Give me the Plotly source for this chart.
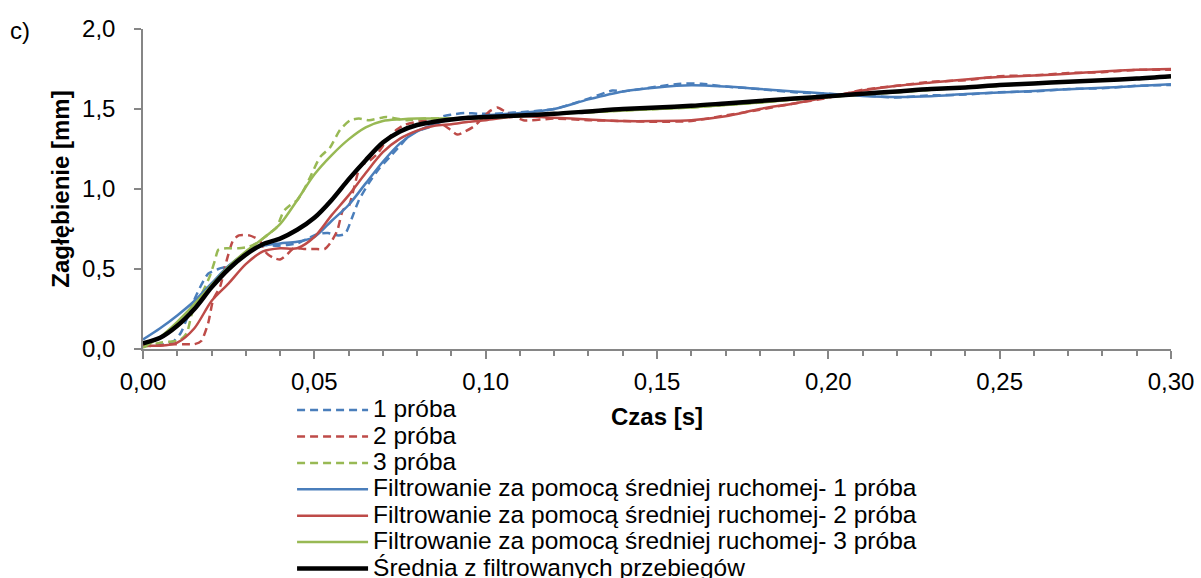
import plotly.graph_objects as go

# ---------------- data ----------------
# filtered (moving average) series and mean, common time grid [s]
t_f = [0.000, 0.005, 0.010, 0.015, 0.020, 0.025, 0.030, 0.035, 0.040, 0.045,
       0.050, 0.055, 0.060, 0.065, 0.070, 0.075, 0.080, 0.085, 0.090, 0.095,
       0.100, 0.110, 0.120, 0.130, 0.140, 0.150, 0.160, 0.170, 0.180, 0.190,
       0.200, 0.210, 0.220, 0.230, 0.240, 0.250, 0.260, 0.270, 0.280, 0.290, 0.300]

filt_1 = [0.06, 0.13, 0.21, 0.30, 0.41, 0.52, 0.60, 0.645, 0.66, 0.67,
          0.70, 0.80, 0.90, 1.035, 1.17, 1.285, 1.36, 1.405, 1.435, 1.45,
          1.46, 1.475, 1.50, 1.56, 1.61, 1.635, 1.648, 1.64, 1.625, 1.61,
          1.595, 1.582, 1.575, 1.58, 1.593, 1.603, 1.613, 1.623, 1.633, 1.643, 1.655]

filt_2 = [0.025, 0.02, 0.04, 0.13, 0.30, 0.41, 0.53, 0.61, 0.63, 0.63,
          0.70, 0.835, 0.96, 1.10, 1.23, 1.315, 1.365, 1.395, 1.405, 1.42,
          1.43, 1.455, 1.445, 1.435, 1.425, 1.425, 1.43, 1.455, 1.50, 1.535,
          1.575, 1.615, 1.645, 1.665, 1.685, 1.70, 1.71, 1.72, 1.735, 1.745, 1.75]

filt_3 = [0.01, 0.075, 0.17, 0.28, 0.40, 0.515, 0.61, 0.69, 0.78, 0.93,
          1.09, 1.21, 1.31, 1.385, 1.425, 1.435, 1.44, 1.44, 1.44, 1.443,
          1.445, 1.455, 1.47, 1.48, 1.49, 1.50, 1.51, 1.525, 1.54, 1.56,
          1.575, 1.59, 1.605, 1.62, 1.635, 1.645, 1.66, 1.67, 1.68, 1.69, 1.70]

mean_f = [0.035, 0.07, 0.145, 0.25, 0.385, 0.50, 0.59, 0.655, 0.69, 0.745,
          0.82, 0.93, 1.06, 1.18, 1.29, 1.36, 1.40, 1.42, 1.435, 1.445,
          1.45, 1.46, 1.47, 1.485, 1.50, 1.51, 1.52, 1.535, 1.55, 1.565,
          1.58, 1.595, 1.61, 1.625, 1.635, 1.65, 1.66, 1.67, 1.68, 1.69, 1.705]

# raw measurements
t_r1 = [0.000, 0.003, 0.006, 0.009, 0.011, 0.013, 0.015, 0.017, 0.019, 0.022,
        0.025, 0.028, 0.031, 0.033, 0.036, 0.039, 0.042, 0.045, 0.048, 0.051,
        0.054, 0.057, 0.059, 0.061, 0.063, 0.066, 0.069, 0.072, 0.075, 0.078,
        0.081, 0.084, 0.087, 0.090, 0.094, 0.098, 0.102, 0.106, 0.110, 0.120,
        0.130, 0.137, 0.140, 0.150, 0.157, 0.163, 0.170, 0.180, 0.190, 0.200,
        0.210, 0.220, 0.230, 0.240, 0.250, 0.260, 0.270, 0.280, 0.290, 0.300]
raw_1 = [0.04, 0.03, 0.03, 0.05, 0.10, 0.20, 0.31, 0.40, 0.47, 0.50,
         0.52, 0.56, 0.62, 0.66, 0.65, 0.645, 0.65, 0.66, 0.69, 0.72,
         0.725, 0.71, 0.72, 0.82, 0.93, 1.04, 1.13, 1.20, 1.27, 1.34,
         1.37, 1.39, 1.45, 1.465, 1.475, 1.47, 1.47, 1.475, 1.48, 1.50,
         1.565, 1.615, 1.61, 1.64, 1.658, 1.658, 1.64, 1.625, 1.605, 1.595,
         1.585, 1.572, 1.585, 1.59, 1.605, 1.61, 1.625, 1.63, 1.645, 1.65]

t_r2 = [0.000, 0.004, 0.008, 0.012, 0.015, 0.017, 0.019, 0.0205, 0.0225, 0.0245,
        0.0263, 0.028, 0.031, 0.034, 0.036, 0.038, 0.040, 0.042, 0.044, 0.047,
        0.050, 0.053, 0.0546, 0.0567, 0.0584, 0.060, 0.0615, 0.0634, 0.0663, 0.0684,
        0.0713, 0.074, 0.0762, 0.080, 0.0838, 0.087, 0.0897, 0.0917, 0.094, 0.0965,
        0.099, 0.1014, 0.1034, 0.106, 0.111, 0.120, 0.130, 0.140, 0.150, 0.160,
        0.170, 0.180, 0.190, 0.200, 0.210, 0.220, 0.230, 0.240, 0.250, 0.260,
        0.270, 0.280, 0.290, 0.300]
raw_2 = [0.02, 0.02, 0.03, 0.03, 0.03, 0.05, 0.16, 0.31, 0.39, 0.56,
         0.68, 0.71, 0.71, 0.68, 0.60, 0.57, 0.56, 0.59, 0.63, 0.625,
         0.625, 0.625, 0.66, 0.74, 0.87, 0.89, 1.00, 1.14, 1.18, 1.22,
         1.31, 1.37, 1.40, 1.42, 1.43, 1.41, 1.37, 1.34, 1.36, 1.39,
         1.44, 1.49, 1.51, 1.48, 1.43, 1.44, 1.43, 1.425, 1.42, 1.425,
         1.46, 1.495, 1.535, 1.57, 1.62, 1.645, 1.67, 1.68, 1.705, 1.71,
         1.725, 1.73, 1.745, 1.745]

t_r3 = [0.000, 0.005, 0.0108, 0.0128, 0.0143, 0.0158, 0.0175, 0.0196, 0.021, 0.022,
        0.0245, 0.028, 0.031, 0.033, 0.035, 0.037, 0.039, 0.041, 0.043, 0.045,
        0.0468, 0.0488, 0.0517, 0.0546, 0.0575, 0.0605, 0.063, 0.066, 0.071, 0.077,
        0.082, 0.090, 0.100, 0.110, 0.120, 0.130, 0.140, 0.150, 0.160, 0.170,
        0.180, 0.190, 0.200, 0.210, 0.220, 0.230, 0.240, 0.250, 0.260, 0.270,
        0.280, 0.290, 0.300]
raw_3 = [0.01, 0.04, 0.056, 0.10, 0.225, 0.29, 0.36, 0.46, 0.555, 0.62,
         0.63, 0.63, 0.64, 0.66, 0.69, 0.725, 0.76, 0.86, 0.90, 0.93,
         0.99, 1.075, 1.20, 1.26, 1.37, 1.43, 1.44, 1.43, 1.45, 1.43,
         1.44, 1.44, 1.445, 1.455, 1.47, 1.48, 1.49, 1.50, 1.51, 1.525,
         1.54, 1.56, 1.575, 1.59, 1.605, 1.62, 1.635, 1.645, 1.66, 1.67,
         1.68, 1.69, 1.70]

names = ["1 próba", "2 próba", "3 próba",
         "Filtrowanie za pomocą średniej ruchomej- 1 próba",
         "Filtrowanie za pomocą średniej ruchomej- 2 próba",
         "Filtrowanie za pomocą średniej ruchomej- 3 próba",
         "Średnia z filtrowanych przebiegów"]

x_ticks = [0.00, 0.05, 0.10, 0.15, 0.20, 0.25, 0.30]
y_ticks = [0.0, 0.5, 1.0, 1.5, 2.0]

# ---------------- style ----------------
BLUE, RED, GREEN = "#4A7EBB", "#BE4B48", "#98B954"
AXIS = "#868686"
FONT = "Liberation Sans, Arial, sans-serif"
FS = 24


def lname(s):
    return '<span style="font-size:24.5px">' + s + '</span>'


fig = go.Figure()
raw = [(t_r1, raw_1, BLUE), (t_r2, raw_2, RED), (t_r3, raw_3, GREEN)]
for i, (tt, vv, c) in enumerate(raw):
    fig.add_trace(go.Scatter(x=tt, y=vv, mode="lines", name=lname(names[i]),
                             line=dict(color=c, width=2.5, dash="8px,5px",
                                       shape="spline", smoothing=0.6)))
for i, (vv, c) in enumerate([(filt_1, BLUE), (filt_2, RED), (filt_3, GREEN)]):
    fig.add_trace(go.Scatter(x=t_f, y=vv, mode="lines", name=lname(names[3 + i]),
                             line=dict(color=c, width=2.5, shape="spline", smoothing=0.8)))
fig.add_trace(go.Scatter(x=t_f, y=mean_f, mode="lines", name=lname(names[6]),
                         line=dict(color="black", width=4.5, shape="spline", smoothing=0.8)))

fig.update_layout(
    width=1201, height=578,
    margin=dict(l=143, r=30, t=29, b=229, autoexpand=False),
    paper_bgcolor="white", plot_bgcolor="white",
    separators=", ",
    font=dict(family=FONT, size=FS, color="black"),
    showlegend=True,
    legend=dict(x=0.145, xanchor="left", y=-0.134, yanchor="top",
                font=dict(family=FONT, size=18, color="black"),
                itemwidth=71, tracegroupgap=0, bgcolor="rgba(0,0,0,0)",
                traceorder="normal"),
    xaxis=dict(range=[0, 0.30], tickvals=x_ticks, tickformat=".2f",
               ticks="outside", ticklen=8, tickwidth=1.5, tickcolor=AXIS,
               showline=True, linecolor=AXIS, linewidth=1.5,
               showgrid=False, zeroline=False,
               minor=dict(dtick=0.01, ticks="outside", ticklen=5, tickwidth=1.5,
                          tickcolor=AXIS, showgrid=False),
               tickfont=dict(size=FS, color="black"), ticklabelstandoff=2,
               title=dict(text="<b>Czas [s]</b>", font=dict(size=FS), standoff=15)),
    yaxis=dict(range=[0, 2.0], tickvals=y_ticks, tickformat=".1f",
               ticks="outside", ticklen=7, tickwidth=1.5, tickcolor=AXIS,
               showline=True, linecolor=AXIS, linewidth=1.5,
               showgrid=False, zeroline=False,
               tickfont=dict(size=FS, color="black"), ticklabelstandoff=14,
               title=dict(text="<b>Zagłębienie [mm]</b>", font=dict(size=FS), standoff=6)),
    annotations=[dict(text="c)", xref="paper", yref="paper", x=-0.131, y=0.994,
                      xanchor="left", yanchor="middle", showarrow=False,
                      font=dict(size=FS, color="black"))],
)

fig.write_html("out.html")
